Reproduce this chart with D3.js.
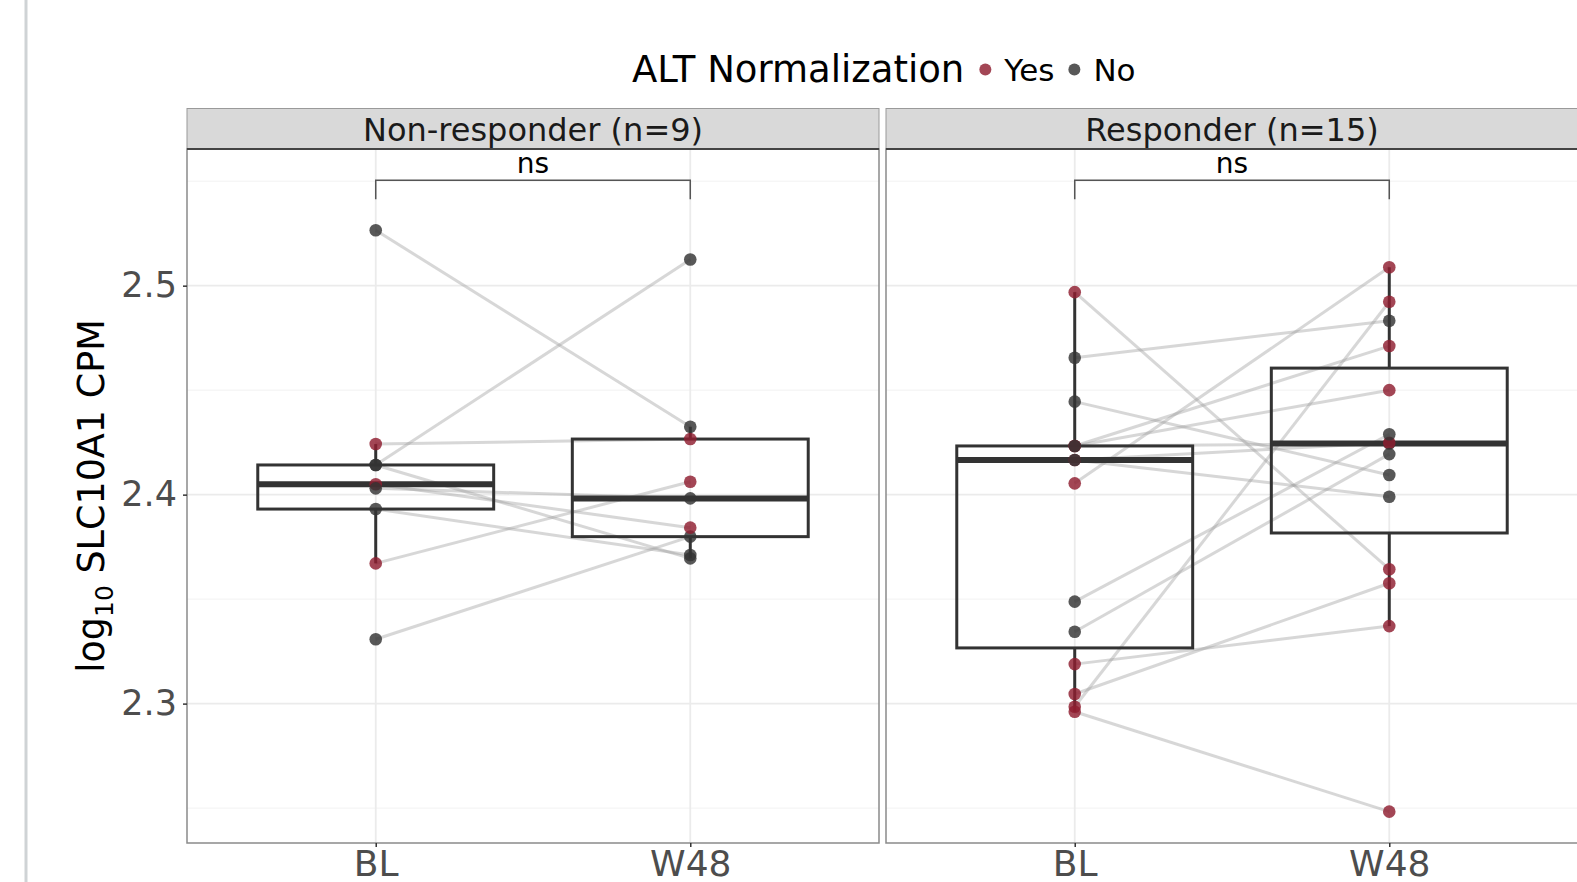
<!DOCTYPE html>
<html>
<head>
<meta charset="utf-8">
<script src="https://cdn.jsdelivr.net/npm/d3@7"></script>
<style>
  html, body { margin: 0; padding: 0; background: #fff; }
  svg text { font-family: "DejaVu Sans", sans-serif; }
</style>
</head>
<body>
<svg id="chart" width="1577" height="882"></svg>
<script>
// --- data ---
var timepoints = ["BL", "W48"];
var panelNames = ["Non-responder (n=9)", "Responder (n=15)"];
var altLevels = ["Yes", "No"];

// non-responders, one entry per subject
var nrBL  = [2.5265, 2.4142, 2.4242, 2.3671, 2.3308, 2.4050, 2.4142, 2.4030, 2.3931];
var nrW48 = [2.4325, 2.5125, 2.4266, 2.4062, 2.3799, 2.3842, 2.3695, 2.3982, 2.3711];
var nrAlt = ["No", "No", "Yes", "Yes", "No", "Yes", "No", "No", "No"];

// responders
var rBL  = [2.4969, 2.4655, 2.4445, 2.4233, 2.4233, 2.4233, 2.4166, 2.4166, 2.4054,
            2.3488, 2.3344, 2.3189, 2.3046, 2.2985, 2.2961];
var rW48 = [2.3643, 2.4832, 2.4094, 2.4711, 2.4500, 2.4245, 2.4248, 2.3990, 2.5088,
            2.4289, 2.4194, 2.3371, 2.3576, 2.4923, 2.2483];
var rAlt = ["Yes", "No", "No", "Yes", "Yes", "No", "Yes", "No", "Yes",
            "No", "No", "Yes", "Yes", "Yes", "Yes"];

var yTicks = [2.3, 2.4, 2.5];
var yMinor = [2.25, 2.35, 2.45, 2.55];
var sigLabels = ["ns", "ns"];

var panels = [
    {name: panelNames[0], bl: nrBL, w48: nrW48, alt: nrAlt},
    {name: panelNames[1], bl: rBL, w48: rW48, alt: rAlt}
];

// --- layout ---
var panelLeft = [187, 886];
var panelW = 692;
var panelTop = 149, panelH = 694;
var stripH = 40.5;

var colour = d3.scaleOrdinal().domain(altLevels).range(["#8f1d30", "#333333"]);

var svg = d3.select("#chart");

// page edge line on the far left of the screenshot
svg.append("rect").attr("x", 24.5).attr("y", 0).attr("width", 3).attr("height", 882)
    .attr("fill", "#cfd3d5");

var x = d3.scalePoint().domain(timepoints).range([0, panelW]).padding(0.6);
var y = d3.scaleLinear().domain([2.2333, 2.5654]).range([panelH, 0]);
var boxW = x.step() * 0.75;

panels.forEach(function(p, pi) {
    var g = svg.append("g").attr("transform", "translate(" + panelLeft[pi] + "," + panelTop + ")");

    // gridlines
    g.selectAll(".minor").data(yMinor).enter().append("line")
        .attr("x1", 0).attr("x2", panelW)
        .attr("y1", function(d){ return y(d); }).attr("y2", function(d){ return y(d); })
        .attr("stroke", "#f2f2f2").attr("stroke-width", 1);
    g.selectAll(".major").data(yTicks).enter().append("line")
        .attr("x1", 0).attr("x2", panelW)
        .attr("y1", function(d){ return y(d); }).attr("y2", function(d){ return y(d); })
        .attr("stroke", "#ebebeb").attr("stroke-width", 1.8);
    g.selectAll(".vmajor").data(timepoints).enter().append("line")
        .attr("x1", function(d){ return x(d); }).attr("x2", function(d){ return x(d); })
        .attr("y1", 0).attr("y2", panelH)
        .attr("stroke", "#ebebeb").attr("stroke-width", 1.8);

    // paired lines
    var pairs = p.bl.map(function(v, i){ return {a: v, b: p.w48[i], alt: p.alt[i]}; });
    g.selectAll(".pair").data(pairs).enter().append("line")
        .attr("x1", x("BL")).attr("x2", x("W48"))
        .attr("y1", function(d){ return y(d.a); }).attr("y2", function(d){ return y(d.b); })
        .attr("stroke", "#9a9a9a").attr("stroke-opacity", 0.4).attr("stroke-width", 3);

    // boxplots
    [p.bl, p.w48].forEach(function(vals, ti) {
        var s = vals.slice().sort(d3.ascending);
        var q1 = d3.quantileSorted(s, 0.25), med = d3.quantileSorted(s, 0.5), q3 = d3.quantileSorted(s, 0.75);
        var iqr = q3 - q1;
        var lo = d3.min(s.filter(function(v){ return v >= q1 - 1.5 * iqr; }));
        var hi = d3.max(s.filter(function(v){ return v <= q3 + 1.5 * iqr; }));
        var cx = x(timepoints[ti]);
        var bg = g.append("g");
        bg.append("line").attr("x1", cx).attr("x2", cx).attr("y1", y(q3)).attr("y2", y(hi))
            .attr("stroke", "#333").attr("stroke-width", 3);
        bg.append("line").attr("x1", cx).attr("x2", cx).attr("y1", y(q1)).attr("y2", y(lo))
            .attr("stroke", "#333").attr("stroke-width", 3);
        bg.append("rect").attr("x", cx - boxW / 2).attr("width", boxW)
            .attr("y", y(q3)).attr("height", y(q1) - y(q3))
            .attr("fill", "none").attr("stroke", "#333").attr("stroke-width", 3);
        bg.append("line").attr("x1", cx - boxW / 2).attr("x2", cx + boxW / 2)
            .attr("y1", y(med)).attr("y2", y(med))
            .attr("stroke", "#333").attr("stroke-width", 6);
    });

    // points
    var pts = [];
    pairs.forEach(function(d){
        pts.push({t: "BL", v: d.a, alt: d.alt});
        pts.push({t: "W48", v: d.b, alt: d.alt});
    });
    g.selectAll(".pt").data(pts).enter().append("circle")
        .attr("cx", function(d){ return x(d.t); })
        .attr("cy", function(d){ return y(d.v); })
        .attr("r", 6.3)
        .attr("fill", function(d){ return colour(d.alt); })
        .attr("fill-opacity", 0.82);

    // significance bracket
    var by = y(2.5505), bt = y(2.5413);
    g.append("path")
        .attr("d", "M" + x("BL") + "," + bt + "V" + by + "H" + x("W48") + "V" + bt)
        .attr("fill", "none").attr("stroke", "#555").attr("stroke-width", 1.5);
    g.append("text").attr("x", (x("BL") + x("W48")) / 2).attr("y", by - 7)
        .attr("text-anchor", "middle").attr("font-size", 28).attr("fill", "#000")
        .text(sigLabels[pi]);

    // panel border
    g.append("rect").attr("x", 0).attr("y", 0).attr("width", panelW).attr("height", panelH)
        .attr("fill", "none").attr("stroke", "#8a8a8a").attr("stroke-width", 1.5);

    // strip
    g.append("rect").attr("x", 0).attr("y", -stripH).attr("width", panelW).attr("height", stripH)
        .attr("fill", "#d9d9d9").attr("stroke", "#9a9a9a").attr("stroke-width", 1);
    g.append("line").attr("x1", 0).attr("x2", panelW).attr("y1", 0).attr("y2", 0)
        .attr("stroke", "#444").attr("stroke-width", 1.8);
    g.append("text").attr("x", panelW / 2).attr("y", -8)
        .attr("text-anchor", "middle").attr("font-size", 32).attr("fill", "#1a1a1a")
        .text(p.name);

    // x axis
    var xa = g.append("g").attr("transform", "translate(0," + panelH + ")")
        .call(d3.axisBottom(x).tickSize(4).tickPadding(3));
    xa.select(".domain").remove();
    xa.selectAll(".tick line").attr("stroke", "#333").attr("stroke-width", 1.5);
    xa.selectAll(".tick text").attr("font-size", 36).attr("fill", "#4d4d4d")
        .attr("font-family", "DejaVu Sans");

    // y axis on the first panel only
    if (pi === 0) {
        var ya = g.append("g")
            .call(d3.axisLeft(y).tickValues(yTicks).tickSize(4).tickPadding(6).tickFormat(d3.format(".1f")));
        ya.select(".domain").remove();
        ya.selectAll(".tick line").attr("stroke", "#333").attr("stroke-width", 1.5);
        ya.selectAll(".tick text").attr("font-size", 35).attr("fill", "#4d4d4d")
            .attr("font-family", "DejaVu Sans");
    }
});

// y axis title
var yt = svg.append("text")
    .attr("transform", "translate(104,496) rotate(-90)")
    .attr("text-anchor", "middle").attr("font-size", 36.5).attr("fill", "#000");
yt.append("tspan").text("log");
yt.append("tspan").attr("font-size", 25).attr("dy", 9).text("10");
yt.append("tspan").attr("dy", -9).text(" SLC10A1 CPM");

// legend
var leg = svg.append("g");
var title = leg.append("text").attr("x", 632).attr("y", 82).attr("font-size", 37)
    .attr("fill", "#000").text("ALT Normalization");
var cursor = 632 + title.node().getComputedTextLength() + 21;
altLevels.forEach(function(lv) {
    leg.append("circle").attr("cx", cursor).attr("cy", 69.5).attr("r", 6)
        .attr("fill", colour(lv)).attr("fill-opacity", 0.82);
    var t = leg.append("text").attr("x", cursor + 19).attr("y", 81).attr("font-size", 31)
        .attr("fill", "#000").text(lv);
    cursor += 19 + t.node().getComputedTextLength() + 20;
});
</script>
</body>
</html>
